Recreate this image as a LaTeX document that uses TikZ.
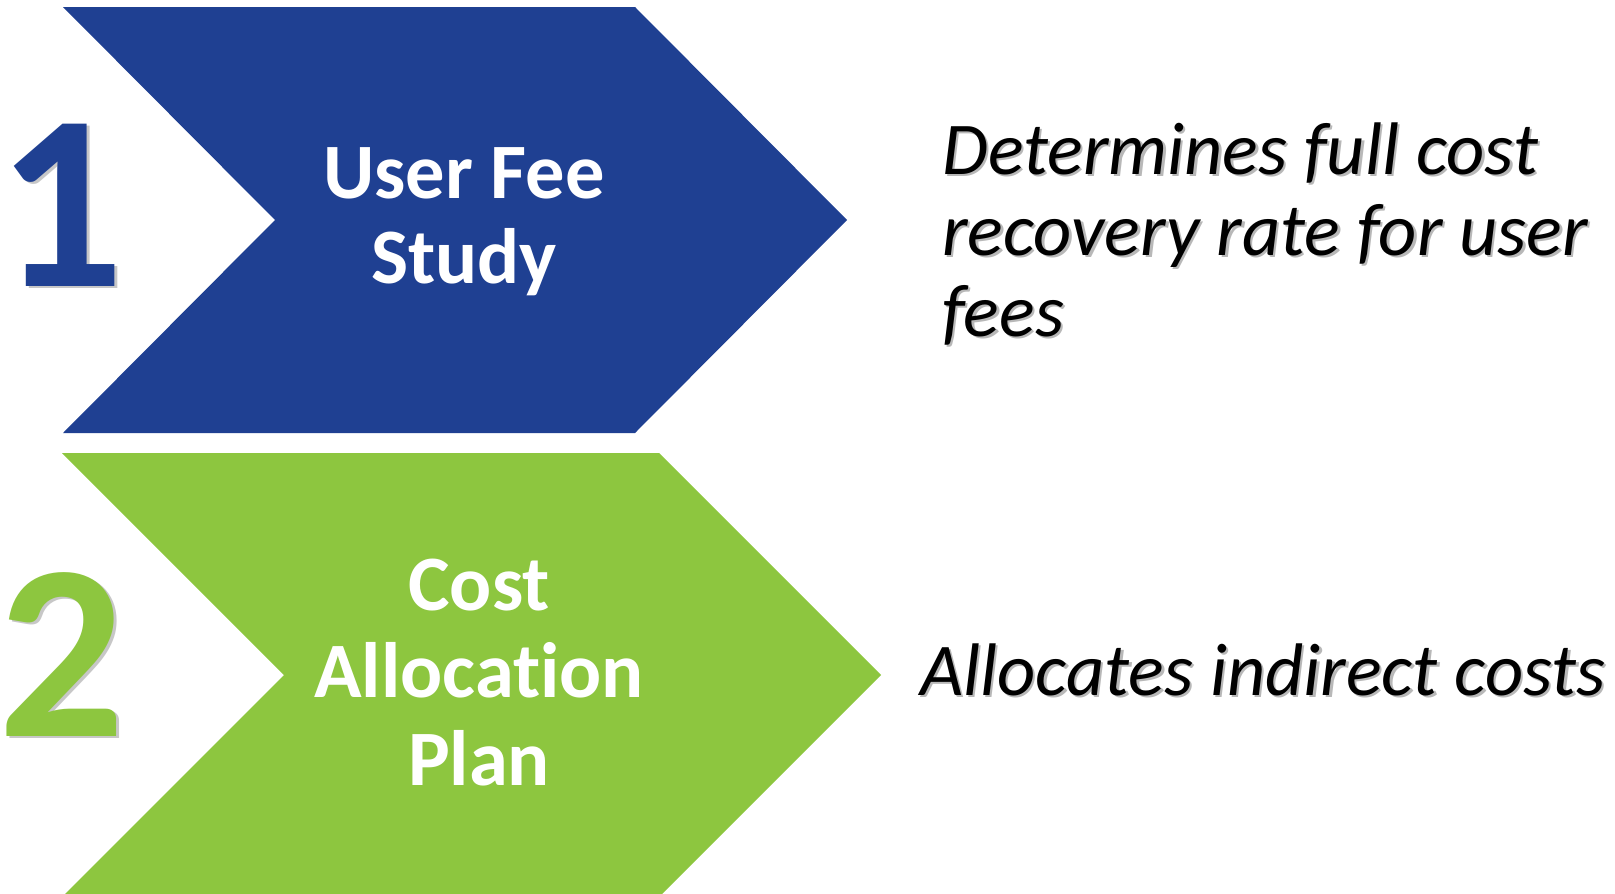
\documentclass[tikz,border=0pt]{standalone}
\usepackage{fontspec}
\setmainfont{Carlito}[Ligatures={NoCommon,NoDiscretionary,NoRare}]
\definecolor{chevblue}{RGB}{31,64,146}
\definecolor{chevgreen}{RGB}{141,198,63}
\newcommand\shtxt[2][black!28]{\leavevmode\rlap{\kern2.5pt\raisebox{-2.5pt}{\textcolor{#1}{#2}}}#2}
\tikzset{
  lbl/.style={inner sep=0pt, anchor=base, text=white, font=\bfseries\fontsize{78.5}{85}\selectfont},
  desc/.style={inner sep=0pt, anchor=base west, text=black, font=\itshape\fontsize{74.5}{80}\selectfont},
  bignum/.style={inner sep=0pt, anchor=base, font=\bfseries\fontsize{250}{260}\selectfont},
}
\begin{document}
\begin{tikzpicture}[x=1pt,y=-1pt]
\useasboundingbox (0,0) rectangle (1615,894);
\clip (0,0) rectangle (1615,894);
\fill[white] (0,0) rectangle (1615,894);
% chevron 1
\coordinate (b1) at (63,7);
\coordinate (b2) at (635,7);
\coordinate (b3) at (847,220);
\coordinate (b4) at (635,433);
\coordinate (b5) at (63,433);
\coordinate (b6) at (275,220);
\fill[chevblue] (b1) -- (b2) -- (b3) -- (b4) -- (b5) -- (b6) -- cycle;
% chevron 2
\coordinate (g1) at (62,453);
\coordinate (g2) at (659,453);
\coordinate (g3) at (881,675);
\coordinate (g4) at (659,897);
\coordinate (g5) at (62,897);
\coordinate (g6) at (284,675);
\fill[chevgreen] (g1) -- (g2) -- (g3) -- (g4) -- (g5) -- (g6) -- cycle;
% numbers
\node[bignum, text=chevblue] (n1) at (61,286) {\shtxt[black!22]{1}};
\node[bignum, text=chevgreen] (n2) at (62,736) {\shtxt[black!22]{2}};
% labels
\node[lbl] (l1a) at (464,198) {User Fee};
\node[lbl] (l1b) at (464,283) {Study};
\node[lbl] (l2a) at (479,610) {Cost};
\node[lbl] (l2b) at (479,697) {Allocation};
\node[lbl] (l2c) at (479,785) {Plan};
% descriptions
\node[desc] (d1a) at (942,174) {\shtxt{Determines full cost}};
\node[desc] (d1b) at (942,255) {\shtxt{recovery rate for user}};
\node[desc] (d1c) at (942,336) {\shtxt{fees}};
\node[desc] (d2) at (920,695) {\shtxt{Allocates indirect costs}};
\end{tikzpicture}
\end{document}
